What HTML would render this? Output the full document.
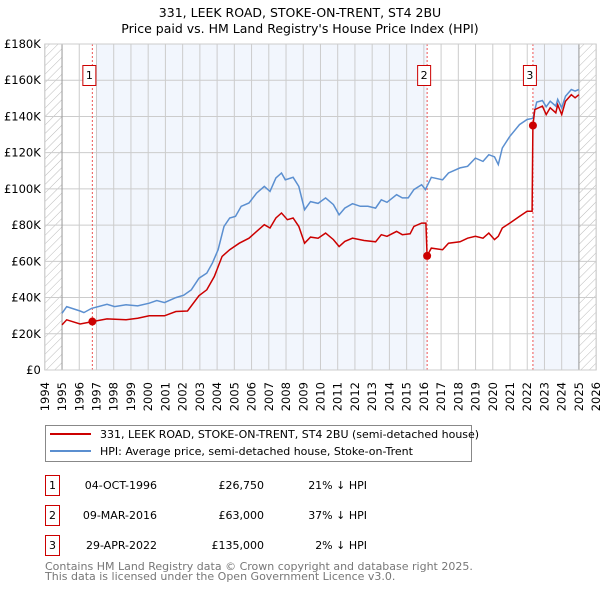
<!DOCTYPE html>
<html><head><meta charset="utf-8">
<style>
body{margin:0;background:#fff;width:600px;height:590px;overflow:hidden;font-family:"DejaVu Sans","Liberation Sans",sans-serif;}
svg text{font-family:"DejaVu Sans","Liberation Sans",sans-serif;}
</style></head>
<body>
<svg id="chart" width="600" height="590" xmlns="http://www.w3.org/2000/svg">
<defs>
<pattern id="hatch" width="6" height="6" patternUnits="userSpaceOnUse" patternTransform="rotate(45)">
<line x1="0" y1="0" x2="0" y2="6" stroke="#bbb" stroke-width="1"/>
</pattern>
</defs>
<text x="300" y="17" text-anchor="middle" font-size="12.5" fill="#000">331, LEEK ROAD, STOKE-ON-TRENT, ST4 2BU</text>
<text x="300" y="33" text-anchor="middle" font-size="12.5" fill="#000">Price paid vs. HM Land Registry's House Price Index (HPI)</text>
<g id="plot"></g>
<g>
<rect x="45.5" y="425.5" width="426" height="36" fill="#fff" stroke="#888"/>
<line x1="50" y1="434" x2="91" y2="434" stroke="#cc0000" stroke-width="2"/>
<text x="100" y="438" font-size="11">331, LEEK ROAD, STOKE-ON-TRENT, ST4 2BU (semi-detached house)</text>
<line x1="50" y1="451" x2="91" y2="451" stroke="#5b8fd0" stroke-width="2"/>
<text x="100" y="455" font-size="11">HPI: Average price, semi-detached house, Stoke-on-Trent</text>
</g>
<g font-size="11">
<rect x="45.5" y="475.5" width="14" height="20" fill="#fff" stroke="#cc0000"/>
<text x="52.5" y="489" text-anchor="middle">1</text>
<text x="157" y="489" text-anchor="end">04-OCT-1996</text>
<text x="264" y="489" text-anchor="end">£26,750</text>
<text x="367" y="489" text-anchor="end">21% ↓ HPI</text>
<rect x="45.5" y="505.5" width="14" height="20" fill="#fff" stroke="#cc0000"/>
<text x="52.5" y="519" text-anchor="middle">2</text>
<text x="157" y="519" text-anchor="end">09-MAR-2016</text>
<text x="264" y="519" text-anchor="end">£63,000</text>
<text x="367" y="519" text-anchor="end">37% ↓ HPI</text>
<rect x="45.5" y="535.5" width="14" height="20" fill="#fff" stroke="#cc0000"/>
<text x="52.5" y="549" text-anchor="middle">3</text>
<text x="157" y="549" text-anchor="end">29-APR-2022</text>
<text x="264" y="549" text-anchor="end">£135,000</text>
<text x="367" y="549" text-anchor="end">2% ↓ HPI</text>
</g>
<text x="45" y="570" font-size="11" fill="#777">Contains HM Land Registry data © Crown copyright and database right 2025.</text>
<text x="45" y="580" font-size="11" fill="#777">This data is licensed under the Open Government Licence v3.0.</text>
</svg>
<script>
const yTicks=[0,20,40,60,80,100,120,140,160,180];
const yTickLabels=["£0","£20K","£40K","£60K","£80K","£100K","£120K","£140K","£160K","£180K"];
const xYears=[1994,1995,1996,1997,1998,1999,2000,2001,2002,2003,2004,2005,2006,2007,2008,2009,2010,2011,2012,2013,2014,2015,2016,2017,2018,2019,2020,2021,2022,2023,2024,2025,2026];
const saleYears=[1996.76,2016.19,2022.33];
const salePrices=[26.75,63,135];
const saleLabels=["1","2","3"];
const hpiYears=[1995.0,1995.27,1996.05,1996.27,1996.71,1997.61,1998.05,1998.72,1999.39,2000.06,2000.5,2000.95,2001.61,2002.06,2002.5,2002.95,2003.4,2003.73,2004.06,2004.4,2004.73,2005.07,2005.4,2005.85,2006.29,2006.74,2007.07,2007.41,2007.74,2007.96,2008.41,2008.74,2009.08,2009.42,2009.86,2010.3,2010.75,2011.08,2011.41,2011.86,2012.31,2012.75,2013.2,2013.53,2013.86,2014.42,2014.75,2015.09,2015.42,2015.87,2016.09,2016.43,2017.09,2017.43,2018.1,2018.54,2018.99,2019.43,2019.77,2020.1,2020.32,2020.55,2020.99,2021.55,2021.99,2022.33,2022.55,2022.88,2023.1,2023.33,2023.66,2023.77,2024.0,2024.22,2024.56,2024.78,2025.0];
const hpiValues=[31.3,35,32.6,31.7,34,36.3,35,36,35.4,36.9,38.4,37.2,40,41.3,44.3,50.7,53.5,59,66.4,79.3,83.9,84.8,90.4,92.2,97.7,101.4,98.6,106,108.8,105,106.4,101.4,88.5,93,92,95,91.3,85.7,89.4,91.8,90.4,90.4,89.4,94,92.6,96.8,95,95,99.6,102.3,99.6,106.4,105,108.8,111.6,112.5,117,115.2,118.9,117.7,113.4,122.6,129,135.5,138.3,139,147.9,148.8,145.3,148.4,145.7,149.4,144.8,151.2,154.9,154,154.9];
const priceYears=[1995.0,1995.27,1996.05,1996.76,1997.61,1998.72,1999.39,2000.06,2000.95,2001.61,2002.28,2002.95,2003.4,2003.84,2004.29,2004.73,2005.29,2005.85,2006.29,2006.74,2007.07,2007.41,2007.74,2008.08,2008.41,2008.74,2009.08,2009.42,2009.86,2010.3,2010.75,2011.08,2011.41,2011.86,2012.53,2013.2,2013.53,2013.86,2014.42,2014.75,2015.2,2015.42,2015.87,2016.12,2016.19,2016.43,2017.09,2017.43,2018.1,2018.54,2018.99,2019.43,2019.77,2020.1,2020.32,2020.55,2020.99,2021.55,2021.99,2022.28,2022.33,2022.44,2022.88,2023.1,2023.33,2023.66,2023.77,2024.0,2024.22,2024.56,2024.78,2025.0];
const priceValues=[24.9,27.7,25.4,26.75,28.2,27.7,28.6,29.9,29.9,32.3,32.6,41,44.3,51.6,62.7,66.4,70,72.8,76.5,80.2,78.4,83.9,86.7,83,83.9,79.3,70,73.4,72.8,75.6,72,68.2,71,72.8,71.5,70.8,74.7,73.8,76.5,74.7,75.2,79.3,81.1,81.1,63,67.3,66.4,70,70.8,72.8,73.8,72.8,75.6,72,73.8,78.4,81.1,84.8,87.6,87.6,135,143.8,145.7,141,144.8,142,146.5,141,148.4,152,150.3,152];

const NS="http://www.w3.org/2000/svg";
const X0=44.8,PX=17.23,Y0=370,PY=326/180;
function xs(y){return X0+(y-1994)*PX;}
function ys(v){return Y0-v*PY;}
const plot=document.getElementById('plot');
function mk(tag,attrs,parent){const e=document.createElementNS(NS,tag);for(const k in attrs)e.setAttribute(k,attrs[k]);(parent||plot).appendChild(e);return e;}
const L=xs(1994),R=xs(2026),T=ys(180),B=ys(0);
let bg=mk('rect',{x:L,y:T,width:R-L,height:B-T,fill:'#fff'});


const bandStarts=[1997,saleYears[2]];
const bandEnds=[saleYears[1],2025];
for(let i=0;i<bandStarts.length;i++){
 const b=mk('rect',{x:xs(bandStarts[i]),y:T,width:xs(bandEnds[i])-xs(bandStarts[i]),height:B-T,fill:'#f2f6fd'});
 
 
}
let h1=mk('rect',{x:L,y:T,width:xs(1995)-L,height:B-T,fill:'url(#hatch)'});


let h2=mk('rect',{x:xs(2025),y:T,width:R-xs(2025),height:B-T,fill:'url(#hatch)'});


for(let i=0;i<yTicks.length;i++){
 const g=mk('line',{x1:L,x2:R,y1:ys(yTicks[i]),y2:ys(yTicks[i]),stroke:'#ccc','stroke-width':1});
 
 
 const t=mk('text',{x:L-4,y:ys(yTicks[i])+4,'text-anchor':'end','font-size':11.5,fill:'#000'});
 t.textContent=yTickLabels[i];
 
 
}
for(let i=0;i<xYears.length;i++){
 const g=mk('line',{x1:xs(xYears[i]),x2:xs(xYears[i]),y1:T,y2:B,stroke:'#ccc','stroke-width':1});
 
 
 const tx=xs(xYears[i])+4, ty=B+12;
 const t=mk('text',{x:tx,y:ty,'text-anchor':'end','font-size':11.5,fill:'#000',transform:'rotate(-90 '+tx+' '+ty+')'});
 t.textContent=xYears[i];
 
 
}
[1995,2025].forEach(y=>{const e=mk('line',{x1:xs(y),x2:xs(y),y1:T,y2:B,stroke:'#999','stroke-width':1});
 
 });
for(let i=0;i<saleYears.length;i++){
 const l=mk('line',{x1:xs(saleYears[i]),x2:xs(saleYears[i]),y1:T,y2:B,stroke:'#e55','stroke-width':1,'stroke-dasharray':'2,2'});
 
 
}
function path(xa,va){return xa.map((y,i)=>(i?'L':'M')+xs(y).toFixed(1)+','+ys(va[i]).toFixed(1)).join('');}
let hp=mk('path',{d:path(hpiYears,hpiValues),fill:'none',stroke:'#5b8fd0','stroke-width':1.5});


let pp=mk('path',{d:path(priceYears,priceValues),fill:'none',stroke:'#cc0000','stroke-width':1.5});


for(let i=0;i<saleYears.length;i++){
 const c=mk('circle',{cx:xs(saleYears[i]),cy:ys(salePrices[i]),r:4,fill:'#cc0000'});
 
 
 const bx=xs(saleYears[i])-10;
 const r=mk('rect',{x:bx+0.5,y:65.5,width:13,height:20,fill:'#fff',stroke:'#cc0000'});
 
 
 const t=mk('text',{x:bx+7,y:79,'text-anchor':'middle','font-size':11});
 t.textContent=saleLabels[i];
 
 
}
let ax=mk('rect',{x:L,y:T,width:R-L,height:B-T,fill:'none',stroke:'#ccc'});


</script>
</body></html>
